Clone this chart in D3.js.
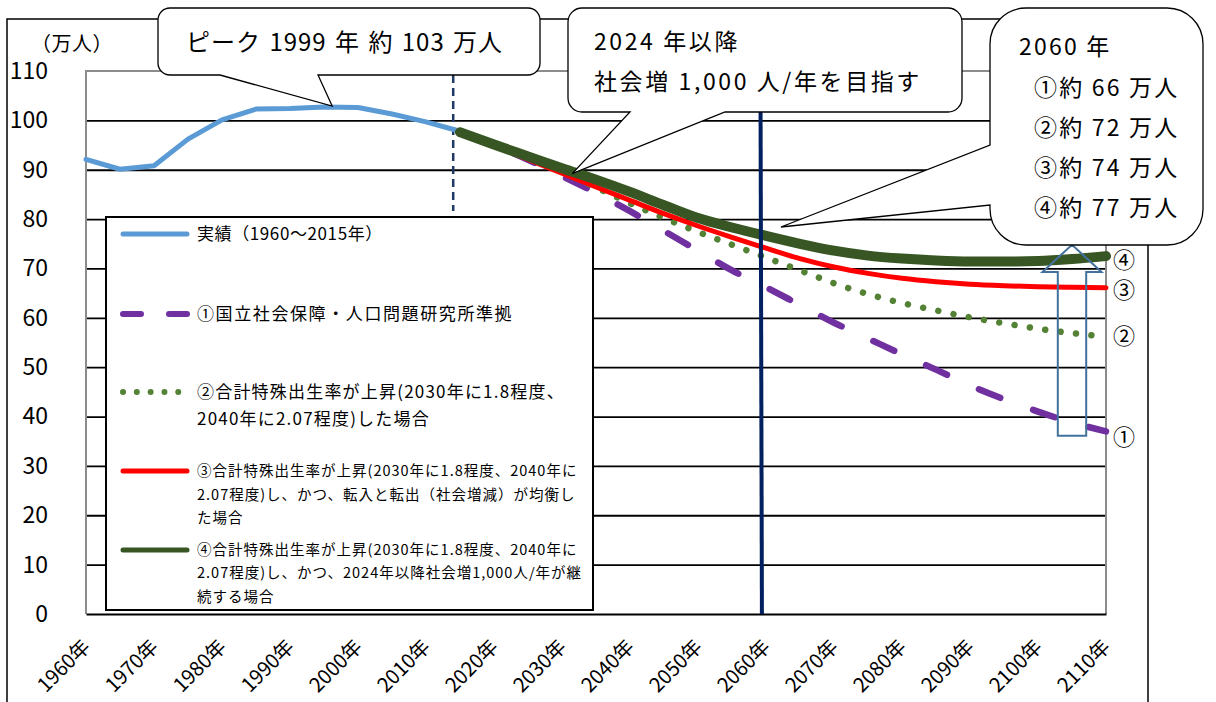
<!DOCTYPE html>
<html lang="ja">
<head>
<meta charset="utf-8">
<script src="https://cdn.jsdelivr.net/npm/d3@7/dist/d3.min.js"></script>
<style>
  html, body { margin: 0; padding: 0; background: #fff; }
  svg { display: block; font-family: "Noto Sans CJK JP", "Noto Sans", sans-serif; }
</style>
</head>
<body>
<svg id="chart" width="1216" height="702"></svg>
<script>
// ---- data (万人) ----
const tickYears = d3.range(1960, 2111, 10);
const yTickValues = d3.range(0, 111, 10);

const actualYears  = [1960, 1965, 1970, 1975, 1980, 1985, 1990, 1995, 2000, 2005, 2010, 2015];
const actualValues = [92.1, 90.1, 90.8, 96.2, 100.1, 102.3, 102.4, 102.7, 102.6, 101.3, 99.7, 97.8];

const projYears = d3.range(2015, 2111, 5);
const scenario1 = [97.8, 95.0, 92.0, 88.7, 85.3, 81.6, 77.6, 73.6, 69.6, 66.2, 62.6, 59.0, 55.8, 52.6, 49.5, 46.3, 43.5, 41.0, 38.8, 37.0];
const scenario2 = [97.8, 95.2, 92.5, 89.5, 86.4, 83.2, 80.2, 77.4, 74.8, 72.2, 69.6, 67.0, 64.8, 63.0, 61.5, 60.1, 58.9, 57.8, 56.9, 56.2];
const scenario3 = [97.7, 94.9, 92.1, 89.3, 86.5, 83.8, 81.1, 78.6, 76.3, 74.1, 72.0, 70.3, 69.0, 68.0, 67.3, 66.8, 66.5, 66.3, 66.2, 66.1];
const scenario4 = [97.6, 95.1, 92.7, 90.3, 88.0, 85.5, 82.8, 80.2, 78.3, 76.6, 75.0, 73.6, 72.6, 72.0, 71.6, 71.4, 71.4, 71.5, 71.9, 72.5];

const legendLabels = [
  ["実績（1960～2015年）"],
  ["①国立社会保障・人口問題研究所準拠"],
  ["②合計特殊出生率が上昇(2030年に1.8程度、", "2040年に2.07程度)した場合"],
  ["③合計特殊出生率が上昇(2030年に1.8程度、2040年に", "2.07程度)し、かつ、転入と転出（社会増減）が均衡し", "た場合"],
  ["④合計特殊出生率が上昇(2030年に1.8程度、2040年に", "2.07程度)し、かつ、2024年以降社会増1,000人/年が継", "続する場合"]
];
const endLabels = ["①", "②", "③", "④"];

const peakNote = "ピーク 1999 年 約 103 万人";
const targetNote = ["2024 年以降", "社会増 1,000 人/年を目指す"];
const outlookNote = ["2060 年", "①約 66 万人", "②約 72 万人", "③約 74 万人", "④約 77 万人"];

// ---- layout ----
const svg = d3.select("#chart");
const plot = { left: 86, right: 1106, top: 71, bottom: 614 };
const x = d3.scaleLinear().domain([1960, 2110]).range([plot.left, plot.right]);
const y = d3.scaleLinear().domain([0, 110]).range([plot.bottom, plot.top]);

const colors = {
  actual: "#5B9BD5", s1: "#7030A0", s2: "#548235", s3: "#FF0000", s4: "#375623",
  navy: "#002060", arrow: "#41719C", frame: "#000", plotBorder: "#8c8c8c"
};

// outer frame
svg.append("rect")
  .attr("x", 7).attr("y", 19).attr("width", 1141).attr("height", 720)
  .attr("fill", "none").attr("stroke", colors.frame).attr("stroke-width", 1.5);

// horizontal gridlines
svg.append("g")
  .attr("transform", `translate(${plot.left},0)`)
  .call(d3.axisLeft(y).tickValues(yTickValues.filter(v => v > 0 && v < 110))
    .tickSize(-(plot.right - plot.left)).tickFormat(""))
  .call(g => g.select(".domain").remove())
  .call(g => g.selectAll(".tick line").attr("stroke", "#000").attr("stroke-width", 1.8));

// plot area border (top / left / right in grey)
svg.append("path")
  .attr("d", `M${plot.left},${plot.bottom} V${plot.top} H${plot.right} V${plot.bottom}`)
  .attr("fill", "none").attr("stroke", colors.plotBorder).attr("stroke-width", 2);

// y axis labels
svg.append("g")
  .attr("transform", `translate(48,0)`)
  .call(d3.axisLeft(y).tickValues(yTickValues).tickSize(0).tickPadding(0))
  .call(g => g.select(".domain").remove())
  .call(g => g.selectAll("text")
    .attr("font-size", 23).attr("fill", "#000")
    .attr("font-family", "'Noto Sans CJK JP', sans-serif"));

svg.append("text")
  .attr("x", 31).attr("y", 44).attr("dy", "0.35em")
  .attr("font-size", 20).attr("letter-spacing", 0.5).text("（万人）");

// x axis
svg.append("g")
  .attr("transform", `translate(0,${plot.bottom})`)
  .call(d3.axisBottom(x).tickValues(tickYears).tickSize(0).tickFormat(d => d + "年"))
  .call(g => g.select(".domain").attr("stroke", "#000").attr("stroke-width", 2.2))
  .call(g => g.selectAll("text")
    .attr("x", 0).attr("y", 0).attr("dy", 0)
    .attr("text-anchor", "end")
    .attr("font-size", 20).attr("fill", "#000")
    .attr("font-family", "'Noto Sans CJK JP', sans-serif")
    .attr("transform", "translate(5,34) rotate(-45)"));

// 2015 marker (dashed)
svg.append("line")
  .attr("x1", x(2014)).attr("x2", x(2014)).attr("y1", 75).attr("y2", 211)
  .attr("stroke", "#1F3864").attr("stroke-width", 2.5).attr("stroke-dasharray", "8,5");

// series
const lineGen = d3.line().x(d => x(d[0])).y(d => y(d[1]));
const smoothGen = d3.line().x(d => x(d[0])).y(d => y(d[1])).curve(d3.curveMonotoneX);

svg.append("path")
  .datum(d3.zip(actualYears, actualValues))
  .attr("d", lineGen)
  .attr("fill", "none").attr("stroke", colors.actual).attr("stroke-width", 5)
  .attr("stroke-linejoin", "round").attr("stroke-linecap", "round");

svg.append("path")
  .datum(d3.zip(projYears, scenario1))
  .attr("d", smoothGen)
  .attr("fill", "none").attr("stroke", colors.s1).attr("stroke-width", 6.5)
  .attr("stroke-linecap", "round").attr("stroke-dasharray", "23,35");

svg.append("path")
  .datum(d3.zip(projYears, scenario2))
  .attr("d", smoothGen)
  .attr("fill", "none").attr("stroke", colors.s2).attr("stroke-width", 6.5)
  .attr("stroke-linecap", "round").attr("stroke-dasharray", "0.01,15.5");

svg.append("path")
  .datum(d3.zip(projYears, scenario3))
  .attr("d", smoothGen)
  .attr("fill", "none").attr("stroke", colors.s3).attr("stroke-width", 5)
  .attr("stroke-linecap", "round");

svg.append("path")
  .datum(d3.zip(projYears, scenario4))
  .attr("d", smoothGen)
  .attr("fill", "none").attr("stroke", colors.s4).attr("stroke-width", 10)
  .attr("stroke-linecap", "round");

// legend
const legend = svg.append("g");
legend.append("rect")
  .attr("x", 106).attr("y", 217).attr("width", 487).attr("height", 393)
  .attr("fill", "#fff").attr("stroke", "#000").attr("stroke-width", 2);

const legendItems = [
  { y: 234, color: colors.actual, width: 5, dash: null, size: 17, spacing: 0.6, lineGap: 0 },
  { y: 314, color: colors.s1, width: 6, dash: "18,28", size: 17, spacing: 1.6, lineGap: 0 },
  { y: 392, color: colors.s2, width: 6, dash: "0.01,13.8", size: 17, spacing: 1.2, lineGap: 27 },
  { y: 471, color: colors.s3, width: 5, dash: null, size: 14.5, spacing: 1.0, lineGap: 23.7 },
  { y: 550, color: colors.s4, width: 5, dash: null, size: 14.5, spacing: 1.0, lineGap: 23.3 }
];
legendItems.forEach((item, i) => {
  legend.append("line")
    .attr("x1", 123).attr("x2", 187).attr("y1", item.y).attr("y2", item.y)
    .attr("stroke", item.color).attr("stroke-width", item.width)
    .attr("stroke-linecap", "round")
    .attr("stroke-dasharray", item.dash);
  legendLabels[i].forEach((t, j) => {
    legend.append("text")
      .attr("x", 197).attr("y", item.y + j * item.lineGap).attr("dy", "0.35em")
      .attr("font-size", item.size).attr("letter-spacing", item.spacing)
      .text(t);
  });
});

// 2060 marker
svg.append("line")
  .attr("x1", x(2059.2)).attr("x2", x(2059.4)).attr("y1", 112).attr("y2", plot.bottom)
  .attr("stroke", colors.navy).attr("stroke-width", 4);

// upward arrow
const arrowYear = 2105, arrowFrom = 36.1, arrowTo = 74.8, arrowHead = 69.3;
const ax = x(arrowYear), shaftHalf = 14.2, headHalf = 29.5;
svg.append("path")
  .attr("d", `M${ax - shaftHalf},${y(arrowFrom)} V${y(arrowHead)} H${ax - headHalf}
              L${ax},${y(arrowTo)} L${ax + headHalf},${y(arrowHead)} H${ax + shaftHalf}
              V${y(arrowFrom)} Z`)
  .attr("fill", "none").attr("stroke", colors.arrow).attr("stroke-width", 2)
  .attr("stroke-linejoin", "miter");

// callouts
function calloutPath(b, r, tail) {
  let p = `M${b.x0 + r},${b.y0} H${b.x1 - r} A${r},${r} 0 0 1 ${b.x1},${b.y0 + r}`
        + ` V${b.y1 - r} A${r},${r} 0 0 1 ${b.x1 - r},${b.y1}`;
  if (tail.edge === "bottom") p += ` H${tail.b} L${tail.tip[0]},${tail.tip[1]} L${tail.a},${b.y1}`;
  p += ` H${b.x0 + r} A${r},${r} 0 0 1 ${b.x0},${b.y1 - r}`;
  if (tail.edge === "left") p += ` V${tail.b} L${tail.tip[0]},${tail.tip[1]} L${b.x0},${tail.a}`;
  p += ` V${b.y0 + r} A${r},${r} 0 0 1 ${b.x0 + r},${b.y0} Z`;
  return p;
}
function drawCallout(box, r, tail) {
  svg.append("path").attr("d", calloutPath(box, r, tail))
    .attr("fill", "#fff").attr("stroke", "#000").attr("stroke-width", 1.3)
    .attr("stroke-linejoin", "miter");
}

drawCallout({ x0: 158, y0: 8, x1: 540, y1: 75 }, 12,
  { edge: "bottom", a: 220, b: 318, tip: [x(1996.2), y(102.9)] });
svg.append("text").attr("x", 186).attr("y", 43).attr("dy", "0.35em")
  .attr("font-size", 24).attr("letter-spacing", 1.0).attr("word-spacing", 2).text(peakNote);

drawCallout({ x0: 568, y0: 8, x1: 962, y1: 112 }, 14,
  { edge: "bottom", a: 630, b: 725, tip: [x(2031.5), y(89.2)] });
targetNote.forEach((t, i) => {
  svg.append("text").attr("x", 594).attr("y", 42 + i * 40).attr("dy", "0.35em")
    .attr("font-size", 23).attr("letter-spacing", 2.6).text(t);
});

drawCallout({ x0: 990, y0: 8, x1: 1203, y1: 245 }, 36,
  { edge: "left", a: 145, b: 205, tip: [x(2062.2), y(78.4)] });
outlookNote.forEach((t, i) => {
  svg.append("text").attr("x", i === 0 ? 1019 : 1034).attr("y", i === 0 ? 47 : 88 + (i - 1) * 40)
    .attr("dy", "0.35em").attr("font-size", 23).attr("letter-spacing", 2.2).text(t);
});

// scenario end labels
const endValues = [scenario1, scenario2, scenario3, scenario4].map(s => s[s.length - 1]);
const endNudge = [6, 0, 3, 4];
endLabels.forEach((t, i) => {
  svg.append("text")
    .attr("x", x(2110) + 7).attr("y", y(endValues[i]) + endNudge[i]).attr("dy", "0.35em")
    .attr("font-size", 22).text(t);
});
</script>
</body>
</html>
